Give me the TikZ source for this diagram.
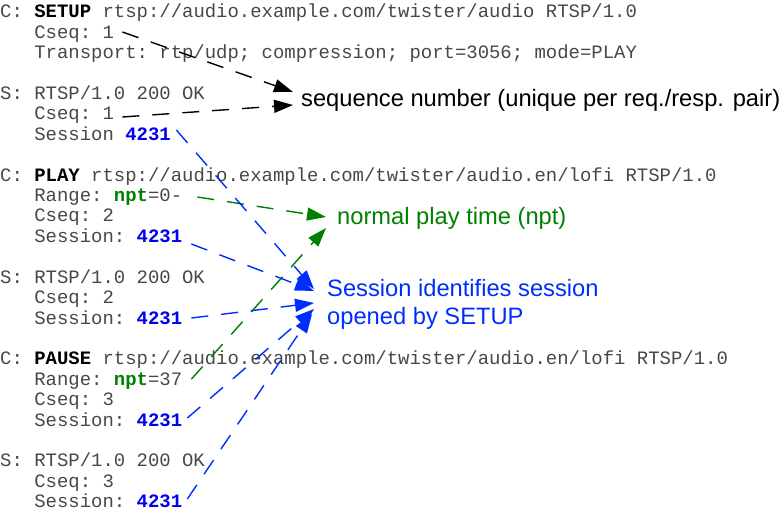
\documentclass[tikz,border=0pt]{standalone}
\usepackage{fontspec}
\setmainfont{Liberation Sans}
\setmonofont{Liberation Mono}
\usetikzlibrary{arrows.meta,calc}
\definecolor{sblue}{RGB}{0,45,255}
\definecolor{tblue}{RGB}{0,0,240}
\definecolor{ngreen}{RGB}{0,128,0}
\newcommand{\sid}{\textbf{\color{tblue}4231}}
\newcommand{\nptw}{\textbf{\color{ngreen}npt}}
\begin{document}
\begin{tikzpicture}[x=1bp,y=-1bp,
  codeline/.style={anchor=base west,inner sep=0pt,font=\ttfamily\fontsize{18.95bp}{20.4bp}\selectfont,text=black!72},
  lbl/.style={anchor=base west,inner sep=0pt,font=\fontsize{23.7bp}{28bp}\selectfont},
  conn/.style={line width=1.4bp,dash pattern=on 17bp off 13bp,-{Triangle[length=19bp,width=13bp]}},
  ]
\useasboundingbox (0,0) rectangle (781,514);
% code lines
\node[codeline] (l0)  at (0,18.0)  {C: \textbf{\color{black}SETUP} rtsp://audio.example.com/twister/audio RTSP/1.0};
\node[codeline] (l1)  at (0,38.4)  {\ \ \ Cseq: 1};
\node[codeline] (l2)  at (0,58.8)  {\ \ \ Transport: rtp/udp; compression; port=3056; mode=PLAY};
\node[codeline] (l4)  at (0,99.6)  {S: RTSP/1.0 200 OK};
\node[codeline] (l5)  at (0,120.0) {\ \ \ Cseq: 1};
\node[codeline] (l6)  at (0,140.4) {\ \ \ Session \sid};
\node[codeline] (l8)  at (0,181.2) {C: \textbf{\color{black}PLAY} rtsp://audio.example.com/twister/audio.en/lofi RTSP/1.0};
\node[codeline] (l9)  at (0,201.6) {\ \ \ Range: \nptw=0-};
\node[codeline] (l10) at (0,222.0) {\ \ \ Cseq: 2};
\node[codeline] (l11) at (0,242.4) {\ \ \ Session: \sid};
\node[codeline] (l13) at (0,283.2) {S: RTSP/1.0 200 OK};
\node[codeline] (l14) at (0,303.6) {\ \ \ Cseq: 2};
\node[codeline] (l15) at (0,324.0) {\ \ \ Session: \sid};
\node[codeline] (l17) at (0,364.8) {C: \textbf{\color{black}PAUSE} rtsp://audio.example.com/twister/audio.en/lofi RTSP/1.0};
\node[codeline] (l18) at (0,385.2) {\ \ \ Range: \nptw=37};
\node[codeline] (l19) at (0,405.6) {\ \ \ Cseq: 3};
\node[codeline] (l20) at (0,426.0) {\ \ \ Session: \sid};
\node[codeline] (l22) at (0,466.8) {S: RTSP/1.0 200 OK};
\node[codeline] (l23) at (0,487.2) {\ \ \ Cseq: 3};
\node[codeline] (l24) at (0,507.6) {\ \ \ Session: \sid};
% labels
\node[lbl] (seq)   at (301,106.7) {sequence number (unique per req./resp. pair)};
\node[lbl,text=ngreen] (npt) at (337,225) {normal play time (npt)};
\node[lbl,text=sblue] (sessA) at (327,296.7) {Session identifies session};
\node[lbl,text=sblue] (sessB) at (327,324.7) {opened by SETUP};
% connector ends
\coordinate (sk1) at ($(l1.base east)+(8.3,-6.4)$);
\coordinate (sk2) at ($(l5.base east)+(8.3,-3)$);
\coordinate (tk1) at (293,92);
\coordinate (tk2) at (293,105);
\coordinate (sg1) at ($(l9.base east)+(15,-4.6)$);
\coordinate (sg2) at ($(l18.base east)+(9,-6)$);
\coordinate (tg1) at (326,217);
\coordinate (tg2) at (326,228);
\coordinate (sb1) at ($(l6.base east)+(5.4,-10.4)$);
\coordinate (sb2) at ($(l11.base east)+(9,1.6)$);
\coordinate (sb3) at ($(l15.base east)+(9,-6)$);
\coordinate (sb4) at ($(l20.base east)+(5,-8)$);
\coordinate (sb5) at ($(l24.base east)+(5,-8.6)$);
\coordinate (tb1) at (314,289);
\coordinate (tb2) at (314,291);
\coordinate (tb3) at (314,303);
\coordinate (tb4) at (314,309);
\coordinate (tb5) at (312,314);
% connectors
\draw[conn,black] (sk1) -- (tk1);
\draw[conn,black] (sk2) -- (tk2);
\draw[conn,ngreen] (sg1) -- (tg1);
\draw[conn,ngreen] (sg2) -- (tg2);
\draw[conn,sblue] (sb1) -- (tb1);
\draw[conn,sblue] (sb2) -- (tb2);
\draw[conn,sblue] (sb3) -- (tb3);
\draw[conn,sblue] (sb4) -- (tb4);
\draw[conn,sblue] (sb5) -- (tb5);
\end{tikzpicture}
\end{document}
